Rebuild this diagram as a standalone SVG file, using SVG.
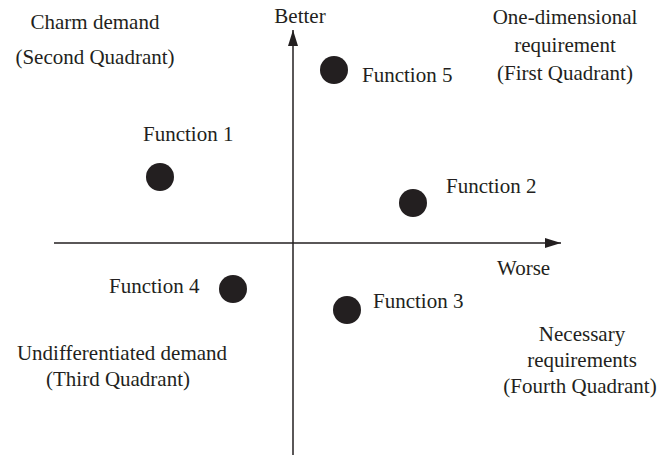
<svg xmlns="http://www.w3.org/2000/svg" width="670" height="457" viewBox="0 0 670 457">
<style>
text{font-family:"Liberation Serif","Times New Roman",serif;font-size:21px;fill:#231f20}
.c{text-anchor:middle}
.dot{fill:#231f20}
.ax{stroke:#231f20;stroke-width:1.5;fill:none}
</style>
<defs>
<marker id="ah" markerWidth="16" markerHeight="10" refX="16" refY="5" orient="auto" markerUnits="userSpaceOnUse">
<path d="M0,0 L16,5 L0,10 Z" fill="#231f20"/>
</marker>
</defs>
<rect width="670" height="457" fill="#fff"/>
<g id="connectors">
<line class="ax" x1="293" y1="455" x2="293" y2="30" marker-end="url(#ah)"/>
<line class="ax" x1="54" y1="243" x2="561" y2="243" marker-end="url(#ah)"/>
</g>
<g id="axis-labels">
<text class="c" x="300" y="23">Better</text>
<text x="497" y="275">Worse</text>
</g>
<g id="q2"><text class="c" x="95" y="29">Charm demand</text><text class="c" x="95" y="64">(Second Quadrant)</text></g>
<g id="q1"><text class="c" x="565" y="24">One-dimensional</text><text class="c" x="565" y="52">requirement</text><text class="c" x="565" y="80">(First Quadrant)</text></g>
<g id="q3"><text class="c" x="122" y="360">Undifferentiated demand</text><text class="c" x="118" y="386">(Third Quadrant)</text></g>
<g id="q4"><text class="c" x="582" y="341">Necessary</text><text class="c" x="582" y="367">requirements</text><text class="c" x="580" y="393">(Fourth Quadrant)</text></g>
<g id="f5"><circle class="dot" cx="334" cy="70" r="14"/><text x="362" y="82">Function 5</text></g>
<g id="f1"><circle class="dot" cx="160" cy="177" r="14"/><text x="143" y="141">Function 1</text></g>
<g id="f2"><circle class="dot" cx="413" cy="203" r="14"/><text x="446" y="193">Function 2</text></g>
<g id="f4"><circle class="dot" cx="233" cy="289" r="14"/><text x="109" y="293">Function 4</text></g>
<g id="f3"><circle class="dot" cx="347" cy="310" r="14"/><text x="373" y="308">Function 3</text></g>
</svg>
